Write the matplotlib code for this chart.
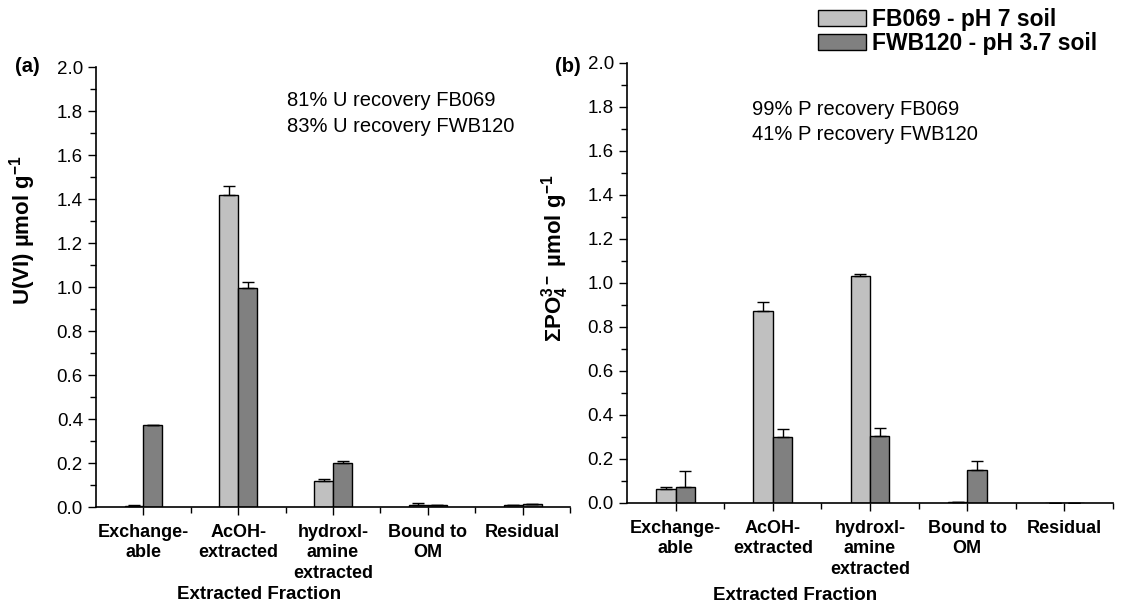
import matplotlib
matplotlib.use("Agg")
import matplotlib.pyplot as plt
from matplotlib.patches import Patch
from matplotlib.ticker import MultipleLocator, FixedLocator, FormatStrFormatter
import numpy as np

plt.rcParams['font.family'] = ['Liberation Sans', 'DejaVu Sans']
plt.rcParams['mathtext.fontset'] = 'custom'
plt.rcParams['mathtext.rm'] = 'Liberation Sans:bold'
plt.rcParams['mathtext.it'] = 'Liberation Sans:bold'
plt.rcParams['mathtext.bf'] = 'Liberation Sans:bold'

fractions = ["Exchange-\nable", "AcOH-\nextracted", "hydroxl-\namine\nextracted", "Bound to\nOM", "Residual"]
series = ["FB069 - pH 7 soil", "FWB120 - pH 3.7 soil"]

# (a) uranium
u_fb069 = [0.005, 1.418, 0.120, 0.010, 0.008]
u_fb069_err = [0.002, 0.040, 0.006, 0.008, 0.003]
u_fwb120 = [0.372, 0.995, 0.200, 0.008, 0.012]
u_fwb120_err = [0.002, 0.030, 0.008, 0.003, 0.003]

# (b) phosphate
p_fb069 = [0.064, 0.872, 1.030, 0.003, 0.0]
p_fb069_err = [0.010, 0.040, 0.010, 0.0, 0.0]
p_fwb120 = [0.073, 0.302, 0.305, 0.150, 0.0]
p_fwb120_err = [0.072, 0.034, 0.035, 0.040, 0.0]

light = "#c0c0c0"
dark = "#808080"

fig = plt.figure(figsize=(11.37, 6.08), dpi=100)
axA = fig.add_axes([0.0845, 0.1661, 0.4168, 0.7237])
axB = fig.add_axes([0.5515, 0.1727, 0.4274, 0.7237])

x = np.arange(1, 6)
w = 0.2


def draw(ax, v1, e1, v2, e2):
    ax.bar(x - w / 2, v1, w, color=light, edgecolor="black", linewidth=1,
           yerr=[[0] * 5, e1], error_kw=dict(ecolor="black", elinewidth=1, capsize=4, capthick=1))
    ax.bar(x + w / 2, v2, w, color=dark, edgecolor="black", linewidth=1,
           yerr=[[0] * 5, e2], error_kw=dict(ecolor="black", elinewidth=1, capsize=4, capthick=1))
    ax.set_xlim(0.5, 5.5)
    ax.set_ylim(0, 2.0)
    ax.yaxis.set_major_locator(MultipleLocator(0.2))
    ax.yaxis.set_minor_locator(MultipleLocator(0.1))
    ax.yaxis.set_major_formatter(FormatStrFormatter("%.1f"))
    ax.set_xticks(x)
    ax.set_xticklabels(fractions, fontweight="bold", fontsize=13, linespacing=1.28, va="top")
    ax.xaxis.set_minor_locator(FixedLocator(np.arange(1.5, 5.6, 1.0)))
    ax.tick_params(axis="y", labelsize=13.5)
    ax.tick_params(axis="x", which="major", pad=6)
    ax.tick_params(axis="both", which="major", direction="out", length=6, width=1)
    ax.tick_params(axis="both", which="minor", direction="out", length=4, width=1)
    for s in ["top", "right"]:
        ax.spines[s].set_visible(False)
    for s in ["left", "bottom"]:
        ax.spines[s].set_linewidth(1.2)
    ax.set_xlabel("Extracted Fraction", fontweight="bold", fontsize=13.5)


draw(axA, u_fb069, u_fb069_err, u_fwb120, u_fwb120_err)
draw(axB, p_fb069, p_fb069_err, p_fwb120, p_fwb120_err)

axA.set_ylabel(r"U(VI) µmol g$^{-1}$", fontweight="bold", fontsize=16)
axB.set_ylabel(r"ΣPO$_4^{3-}$ µmol g$^{-1}$", fontweight="bold", fontsize=16)
axA.yaxis.set_label_coords(-0.122, 0.63)
axB.yaxis.set_label_coords(-0.115, 0.557)
axA.xaxis.set_label_coords(0.343, -0.179)
axB.xaxis.set_label_coords(0.346, -0.19)

axA.text(0.402, 0.945, "81% U recovery FB069\n83% U recovery FWB120", transform=axA.transAxes,
         fontsize=14.5, va="top", ha="left", linespacing=1.42)
axB.text(0.257, 0.916, "99% P recovery FB069\n41% P recovery FWB120", transform=axB.transAxes,
         fontsize=14.5, va="top", ha="left", linespacing=1.42)

fig.text(15 / 1137, 1 - 67 / 608, "(a)", fontweight="bold", fontsize=14.5, va="center")
fig.text(555 / 1137, 1 - 67 / 608, "(b)", fontweight="bold", fontsize=14.5, va="center")

handles = [Patch(facecolor=light, edgecolor="black"), Patch(facecolor=dark, edgecolor="black")]
fig.legend(handles, series, loc="upper left", bbox_to_anchor=(818 / 1137, 1 - 8 / 608), frameon=False,
           prop=dict(weight="bold", size=16.5), handlelength=2.1, handleheight=0.74,
           handletextpad=0.26, labelspacing=0.05, borderpad=0, borderaxespad=0)

fig.savefig("out.png", dpi=100)
